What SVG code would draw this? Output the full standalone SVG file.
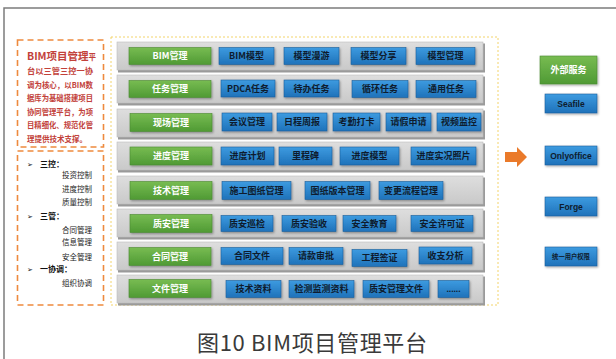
<svg xmlns="http://www.w3.org/2000/svg" width="616" height="359" viewBox="0 0 616 359">
<defs>
<linearGradient id="gBand" x1="0" y1="0" x2="0" y2="1"><stop offset="0" stop-color="#DEDEDE"/><stop offset="1" stop-color="#C9C9C9"/></linearGradient>
<linearGradient id="gGreen" x1="0" y1="0" x2="0" y2="1"><stop offset="0" stop-color="#78BC52"/><stop offset="1" stop-color="#4F9A34"/></linearGradient>
<linearGradient id="gBlue" x1="0" y1="0" x2="0" y2="1"><stop offset="0" stop-color="#3D9BE0"/><stop offset="1" stop-color="#1F72BA"/></linearGradient>
<filter id="sh" x="-10%" y="-20%" width="125%" height="160%"><feDropShadow dx="1" dy="1.2" stdDeviation="0.8" flood-color="#000" flood-opacity="0.35"/></filter>
</defs>
<style>
.frame{stroke:#7C7C7C;stroke-width:1.5;fill:none}
.band{fill:url(#gBand);stroke:#BDBDBD;stroke-width:0.6}
.bandsh{fill:#9A9A9A}
.g{fill:url(#gGreen);stroke:#4A8A32;stroke-width:0.6;filter:url(#sh)}
.b{fill:url(#gBlue);stroke:#1A5E9A;stroke-width:0.6;filter:url(#sh)}
.gt{font-family:"Noto Sans CJK SC","DejaVu Sans",sans-serif;font-size:9px;font-weight:bold;fill:#FFFFFF;text-anchor:middle}
.bt{font-family:"Noto Sans CJK SC","DejaVu Sans",sans-serif;font-size:9px;font-weight:bold;fill:#0E1C2E;text-anchor:middle}
.bl{font-family:"Liberation Sans",sans-serif;font-size:8.5px;font-weight:bold;fill:#0E1C2E;text-anchor:middle}
.bs{font-family:"Noto Sans CJK SC","DejaVu Sans",sans-serif;font-size:6.3px;font-weight:bold;fill:#0E1C2E;text-anchor:middle}
.ob{fill:none;stroke:#EE8A3E;stroke-width:1.6;stroke-dasharray:6 4}
.yb{fill:none;stroke:#F3D46A;stroke-width:1;stroke-dasharray:2 2}
.rt{font-family:"Noto Sans CJK SC","DejaVu Sans",sans-serif;font-size:7.6px;font-weight:bold;fill:#C2413A}
.lt{font-family:"Noto Sans CJK SC","DejaVu Sans",sans-serif;font-size:7.5px;fill:#222}
.lh{font-family:"Noto Sans CJK SC","DejaVu Sans",sans-serif;font-size:8px;font-weight:bold;fill:#111}
.arr{font-family:"DejaVu Sans",sans-serif;font-size:7px;fill:#111}
.title{font-family:"Noto Sans CJK SC","Liberation Sans",sans-serif;font-size:22px;fill:#3A3A3A}
</style>
<rect width="616" height="359" fill="#FFFFFF"/>
<path class="frame" d="M4,359 V8 H616"/>

<g id="intro">
<rect class="ob" x="17.5" y="40" width="86" height="107"/>
<text class="rt" x="27" y="60"><tspan font-size="10.5px">BIM项目管理</tspan><tspan font-size="7.5px">平</tspan></text>
<text class="rt" x="27" y="74" textLength="66" lengthAdjust="spacingAndGlyphs">台以三管三控一协</text>
<text class="rt" x="27" y="87.5" textLength="66" lengthAdjust="spacingAndGlyphs">调为核心，以BIM数</text>
<text class="rt" x="27" y="101" textLength="66" lengthAdjust="spacingAndGlyphs">据库为基础搭建项目</text>
<text class="rt" x="27" y="114.5" textLength="66" lengthAdjust="spacingAndGlyphs">协同管理平台，为项</text>
<text class="rt" x="27" y="128" textLength="66" lengthAdjust="spacingAndGlyphs">目精细化、规范化管</text>
<text class="rt" x="27" y="141.5" textLength="60" lengthAdjust="spacingAndGlyphs">理提供技术支撑。</text>
</g>

<g id="principles">
<rect class="ob" x="17.5" y="151" width="86" height="154"/>
<text class="arr" x="27" y="167">➢</text><text class="lh" x="40" y="167">三控：</text>
<text class="lt" x="62" y="178">投资控制</text>
<text class="lt" x="62" y="192">进度控制</text>
<text class="lt" x="62" y="205">质量控制</text>
<text class="arr" x="27" y="218.5">➢</text><text class="lh" x="40" y="218.5">三管：</text>
<text class="lt" x="62" y="233">合同管理</text>
<text class="lt" x="62" y="245">信息管理</text>
<text class="lt" x="62" y="259.5">安全管理</text>
<text class="arr" x="27" y="272">➢</text><text class="lh" x="40" y="272">一协调：</text>
<text class="lt" x="62" y="286">组织协调</text>
</g>

<g id="platform">
<rect class="yb" x="111" y="37" width="387" height="268"/>

<g id="row-bim">
<rect class="bandsh" x="118" y="43.5" width="367" height="29"/>
<rect class="band" x="117" y="42" width="366" height="28"/>
<rect class="g" x="129" y="47.5" width="82" height="17"/><text class="gt" x="170" y="59.2">BIM管理</text>
<rect class="b" x="219" y="47.5" width="55" height="17"/><text class="bt" x="246.5" y="59.2">BIM模型</text>
<rect class="b" x="284" y="47.5" width="55" height="17"/><text class="bt" x="311.5" y="59.2">模型漫游</text>
<rect class="b" x="351" y="47.5" width="55" height="17"/><text class="bt" x="378.5" y="59.2">模型分享</text>
<rect class="b" x="416" y="47.5" width="59" height="17"/><text class="bt" x="445.5" y="59.2">模型管理</text>
</g>

<g id="row-task">
<rect class="bandsh" x="118" y="76.5" width="367" height="29"/>
<rect class="band" x="117" y="75" width="366" height="28"/>
<rect class="g" x="129" y="80.5" width="82" height="17"/><text class="gt" x="170" y="92.2">任务管理</text>
<rect class="b" x="221" y="80" width="54" height="17"/><text class="bt" x="248" y="91.7">PDCA任务</text>
<rect class="b" x="284" y="80" width="55" height="17"/><text class="bt" x="311.5" y="91.7">待办任务</text>
<rect class="b" x="352" y="80.5" width="56" height="17"/><text class="bt" x="380" y="92.2">循环任务</text>
<rect class="b" x="416" y="80.5" width="60" height="17"/><text class="bt" x="446" y="92.2">通用任务</text>
</g>

<g id="row-site">
<rect class="bandsh" x="118" y="110.5" width="367" height="29"/>
<rect class="band" x="117" y="109" width="366" height="28"/>
<rect class="g" x="130" y="113.5" width="82" height="18"/><text class="gt" x="171" y="125.7">现场管理</text>
<rect class="b" x="222" y="113" width="50" height="18"/><text class="bt" x="247" y="125.2">会议管理</text>
<rect class="b" x="277" y="113" width="50" height="18"/><text class="bt" x="302" y="125.2">日程周报</text>
<rect class="b" x="333" y="113" width="47" height="18"/><text class="bt" x="356.5" y="125.2">考勤打卡</text>
<rect class="b" x="386" y="113" width="45" height="18"/><text class="bt" x="408.5" y="125.2">请假申请</text>
<rect class="b" x="437" y="113" width="44" height="18"/><text class="bt" x="459" y="125.2">视频监控</text>
</g>

<g id="row-progress">
<rect class="bandsh" x="118" y="143.5" width="367" height="29"/>
<rect class="band" x="117" y="142" width="366" height="28"/>
<rect class="g" x="130" y="147" width="82" height="18"/><text class="gt" x="171" y="159.2">进度管理</text>
<rect class="b" x="221" y="147" width="53" height="18"/><text class="bt" x="247.5" y="159.2">进度计划</text>
<rect class="b" x="279" y="147" width="53" height="18"/><text class="bt" x="305.5" y="159.2">里程碑</text>
<rect class="b" x="340" y="147" width="59" height="18"/><text class="bt" x="369.5" y="159.2">进度模型</text>
<rect class="b" x="411" y="147" width="65" height="18"/><text class="bt" x="443.5" y="159.2">进度实况照片</text>
</g>

<g id="row-tech">
<rect class="bandsh" x="118" y="177.5" width="367" height="29"/>
<rect class="band" x="117" y="176" width="366" height="28"/>
<rect class="g" x="130" y="181.5" width="82" height="18"/><text class="gt" x="171" y="193.7">技术管理</text>
<rect class="b" x="222" y="181.5" width="69" height="18"/><text class="bt" x="256.5" y="193.7">施工图纸管理</text>
<rect class="b" x="305" y="181.5" width="65" height="18"/><text class="bt" x="337.5" y="193.7">图纸版本管理</text>
<rect class="b" x="379" y="181.5" width="64" height="18"/><text class="bt" x="411" y="193.7">变更流程管理</text>
</g>

<g id="row-quality">
<rect class="bandsh" x="118" y="210.5" width="367" height="29"/>
<rect class="band" x="117" y="209" width="366" height="28"/>
<rect class="g" x="130" y="214.5" width="82" height="18"/><text class="gt" x="171" y="226.7">质安管理</text>
<rect class="b" x="221" y="215.5" width="52" height="16"/><text class="bt" x="247" y="226.7">质安巡检</text>
<rect class="b" x="282" y="215.5" width="54" height="16"/><text class="bt" x="309" y="226.7">质安验收</text>
<rect class="b" x="343" y="215.5" width="53" height="16"/><text class="bt" x="369.5" y="226.7">安全教育</text>
<rect class="b" x="411" y="215.5" width="62" height="16"/><text class="bt" x="442" y="226.7">安全许可证</text>
</g>

<g id="row-contract">
<rect class="bandsh" x="118" y="243.5" width="367" height="29"/>
<rect class="band" x="117" y="242" width="366" height="28"/>
<rect class="g" x="129" y="247.5" width="82" height="18"/><text class="gt" x="170" y="259.7">合同管理</text>
<rect class="b" x="221" y="247.5" width="62" height="17"/><text class="bt" x="252" y="259.2">合同文件</text>
<rect class="b" x="289" y="247.5" width="54" height="17"/><text class="bt" x="316" y="259.2">请款审批</text>
<rect class="b" x="352" y="249.5" width="55" height="17"/><text class="bt" x="379.5" y="261.2">工程签证</text>
<rect class="b" x="419" y="247" width="53" height="17"/><text class="bt" x="445.5" y="258.7">收支分析</text>
</g>

<g id="row-file">
<rect class="bandsh" x="118" y="276.5" width="367" height="29"/>
<rect class="band" x="117" y="275" width="366" height="28"/>
<rect class="g" x="129" y="279.5" width="82" height="18"/><text class="gt" x="170" y="291.7">文件管理</text>
<rect class="b" x="226" y="280.5" width="55" height="17"/><text class="bt" x="253.5" y="292.2">技术资料</text>
<rect class="b" x="289" y="280.5" width="65" height="17"/><text class="bt" x="321.5" y="292.2">检测监测资料</text>
<rect class="b" x="363" y="280.5" width="66" height="17"/><text class="bt" x="396" y="292.2">质安管理文件</text>
<rect class="b" x="438" y="280.5" width="31" height="17"/><text class="bl" x="453.5" y="291.5">......</text>
</g>
</g>

<g id="connectors">
<polygon points="505,152 517,152 517,147 527,157 517,167 517,162 505,162" fill="#EA7A2A"/>
</g>

<g id="external">
<rect class="g" x="540" y="56" width="57" height="28"/><text class="gt" x="568.5" y="73">外部服务</text>
<g id="seafile"><rect class="b" x="545" y="94" width="52" height="19"/><text class="bl" x="571" y="106.6">Seafile</text></g>
<g id="onlyoffice"><rect class="b" x="545" y="146" width="52" height="19"/><text class="bl" x="571" y="158.6">Onlyoffice</text></g>
<g id="forge"><rect class="b" x="545" y="197" width="52" height="19"/><text class="bl" x="571" y="209.6">Forge</text></g>
<g id="auth"><rect class="b" x="545" y="247" width="52" height="19"/><text class="bs" x="571" y="258.7">统一用户权限</text></g>
</g>

<text class="title" x="197" y="351" textLength="230" lengthAdjust="spacing">图10 BIM项目管理平台</text>
</svg>
